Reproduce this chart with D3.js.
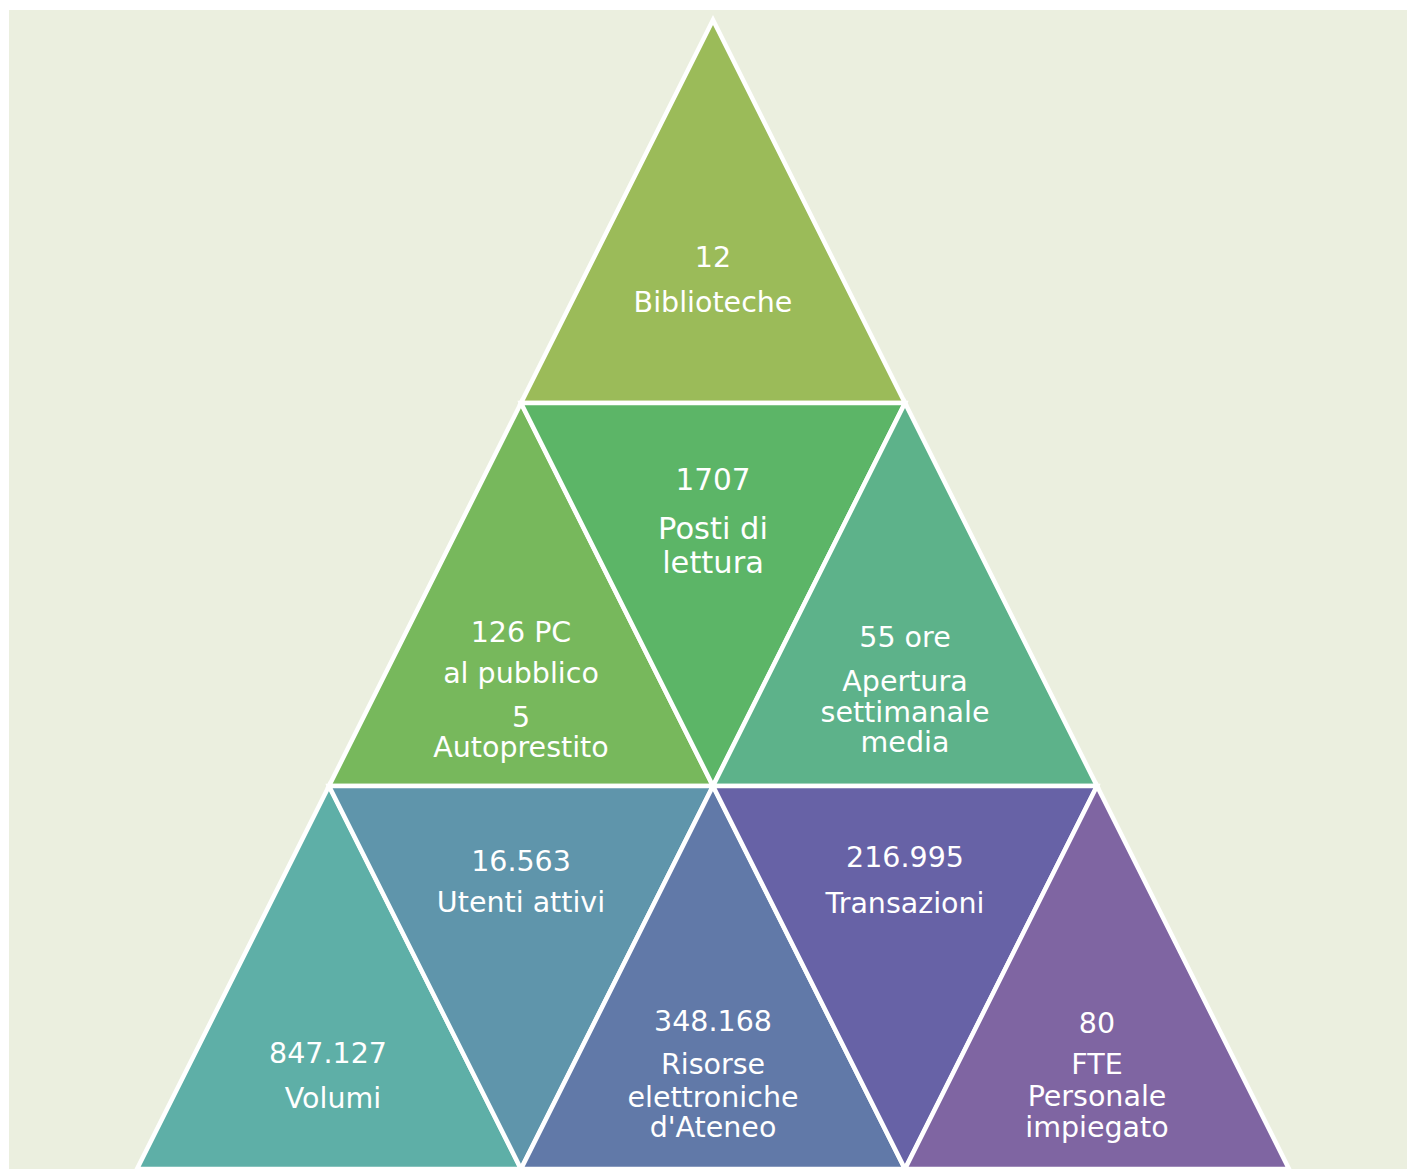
<!DOCTYPE html>
<html>
<head>
  <meta charset="utf-8" />
  <title>Biblioteche - piramide</title>
  <script src="https://cdn.jsdelivr.net/npm/d3@7"></script>
  <style>
    body {
      margin: 0;
      background: #fff;
      font-family: Verdana, "DejaVu Sans", sans-serif;
    }
    svg { display: block; }
  </style>
</head>
<body>
  <div id="chart"></div>

  <script>
    // values and captions, one entry per triangle (row by row, left to right)
    var values = ["12", "126 PC", "1707", "55 ore", "847.127", "16.563", "348.168", "216.995", "80"];
    var captions = [
      ["Biblioteche"],
      ["al pubblico", "5", "Autoprestito"],
      ["Posti di", "lettura"],
      ["Apertura", "settimanale", "media"],
      ["Volumi"],
      ["Utenti attivi"],
      ["Risorse", "elettroniche", "d'Ateneo"],
      ["Transazioni"],
      ["FTE", "Personale", "impiegato"]
    ];
    var rows = [0, 1, 1, 1, 2, 2, 2, 2, 2];
    var slots = [0, 0, 1, 2, 0, 1, 2, 3, 4];

    // look
    var colors = ["#9BBB59", "#77B85C", "#5CB567", "#5DB28A", "#5EAFA7", "#5F95AB", "#6179A8", "#6762A6", "#7F65A2"];
    var fontSizes = [28.5, 28.5, 30.5, 28.5, 28.5, 28.5, 28.5, 28.5, 28.5];
    // baseline of every line, measured from the top of the row
    var lineY = [
      [247, 292],
      [239, 280, 324, 354],
      [87, 136, 170],
      [244, 288, 319, 349],
      [277, 322],
      [85, 126],
      [245, 288, 321, 351],
      [81, 127],
      [247, 288, 320, 351]
    ];
    // horizontal nudge of value line / caption lines
    var textShift = [[0, 0], [0, 0], [0, 0], [0, 0], [-1, 4], [0, 0], [0, 0], [0, 0], [0, 0]];

    var width = 1407, height = 1169;

    var svg = d3.select("#chart").append("svg")
      .attr("width", width)
      .attr("height", height);

    svg.append("rect")
      .attr("x", 9)
      .attr("y", 10)
      .attr("width", width - 9)
      .attr("height", height - 10)
      .attr("fill", "#EBEFDF");

    // x in half-triangle units, y in rows
    var x = d3.scaleLinear().domain([0, 6]).range([137, 1289]);
    var y = d3.scaleLinear().domain([0, 3]).range([20, 1169]);

    var data = values.map(function (v, i) {
      var r = rows[i], k = slots[i];
      var left = 2 - r + k;
      var up = k % 2 === 0;
      var pts = up
        ? [[left, r + 1], [left + 1, r], [left + 2, r + 1]]
        : [[left, r], [left + 2, r], [left + 1, r + 1]];
      return {
        value: v,
        lines: [v].concat(captions[i]),
        row: r,
        cx: left + 1,
        points: pts,
        color: colors[i],
        size: fontSizes[i],
        lineY: lineY[i],
        shift: textShift[i]
      };
    });

    var line = d3.line()
      .x(function (p) { return x(p[0]); })
      .y(function (p) { return y(p[1]); })
      .curve(d3.curveLinearClosed);

    var g = svg.selectAll("g.tri")
      .data(data)
      .join("g")
      .attr("class", "tri");

    g.append("path")
      .attr("d", function (d) { return line(d.points); })
      .attr("fill", function (d) { return d.color; })
      .attr("stroke", "#fff")
      .attr("stroke-width", 4.5)
      .attr("stroke-linejoin", "miter");

    g.each(function (d) {
      var sel = d3.select(this);
      d.lines.forEach(function (t, j) {
        sel.append("text")
          .attr("x", x(d.cx) + (j === 0 ? d.shift[0] : d.shift[1]))
          .attr("y", y(d.row) + d.lineY[j])
          .attr("text-anchor", "middle")
          .attr("fill", "#fff")
          .attr("font-size", (j === 0 && d.size > 29 ? d.size - 1 : d.size) + "px")
          .text(t);
      });
    });
  </script>
</body>
</html>
